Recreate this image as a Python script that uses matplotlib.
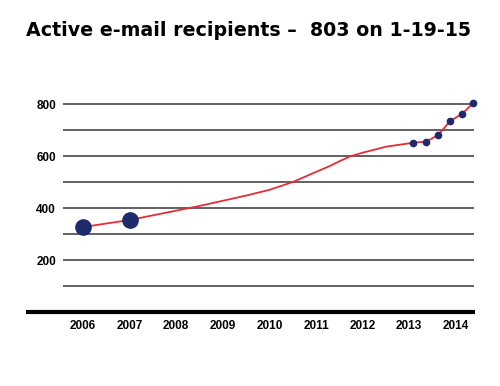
import matplotlib
matplotlib.use("Agg")
import matplotlib.pyplot as plt
from matplotlib import font_manager

# data
years = [2006, 2007, 2008, 2009, 2010, 2011, 2012, 2013, 2014]
big_x = [2006.0, 2007.0]
big_y = [327, 354]
small_x = [2013.08, 2013.36, 2013.62, 2013.88, 2014.13, 2014.37]
small_y = [652, 655, 681, 735, 762, 803]
trend_x = [2006.0, 2007.0, 2008.0, 2008.5, 2009.0, 2009.5, 2010.0, 2010.5, 2011.0,
           2011.3, 2011.5, 2011.75, 2012.0, 2012.5, 2013.0, 2013.08, 2013.36,
           2013.62, 2013.88, 2014.13, 2014.37]
trend_y = [327, 354, 390, 408, 428, 448, 470, 500, 539, 562, 580, 600, 613, 636,
           649, 652, 655, 681, 735, 762, 803]
grid_vals = [100, 200, 300, 400, 500, 600, 700, 800]
label_vals = [200, 400, 600, 800]

names = {f.name for f in font_manager.fontManager.ttflist}
narrow = "Liberation Sans Narrow" if "Liberation Sans Narrow" in names else "Liberation Sans"

fig = plt.figure(figsize=(5, 3.86), dpi=100)
ax = fig.add_axes([0.126, 0.1917, 0.822, 0.575])
xmin, xmax = 2005.57, 2014.39
ax.set_xlim(xmin, xmax)
ax.set_ylim(0, 854)

for v in grid_vals:
    ax.axhline(v, color="#555555", lw=1.3, zorder=1)

# thick base line running out to the left
ax.plot([2004.78, xmax + 0.02], [0, 0], color="black", lw=3, clip_on=False,
        solid_capstyle="butt", zorder=3)

ax.plot(trend_x, trend_y, color="#e52d3a", lw=1.3, zorder=2)
ax.plot(big_x, big_y, "o", color="#1f2a6b", ms=11, zorder=4)
ax.plot(small_x, small_y, "o", color="#1f2a6b", ms=4.5, zorder=4, clip_on=False)

for s in ax.spines.values():
    s.set_visible(False)
ax.set_xticks(years)
ax.set_xticklabels([str(y) for y in years], fontfamily=narrow, fontweight="bold",
                   fontsize=8.5)
ax.set_yticks(label_vals)
ax.set_yticklabels([str(v) for v in label_vals], fontfamily=narrow,
                   fontweight="bold", fontsize=8.5)
ax.tick_params(length=0, pad=5)
ax.tick_params(axis="x", pad=6)

fig.text(0.498, 0.92, "Active e-mail recipients \u2013  803 on 1-19-15",
         ha="center", va="center", fontsize=13.7, fontweight="heavy",
         fontfamily="DejaVu Sans")

fig.savefig("out.png", dpi=100)
